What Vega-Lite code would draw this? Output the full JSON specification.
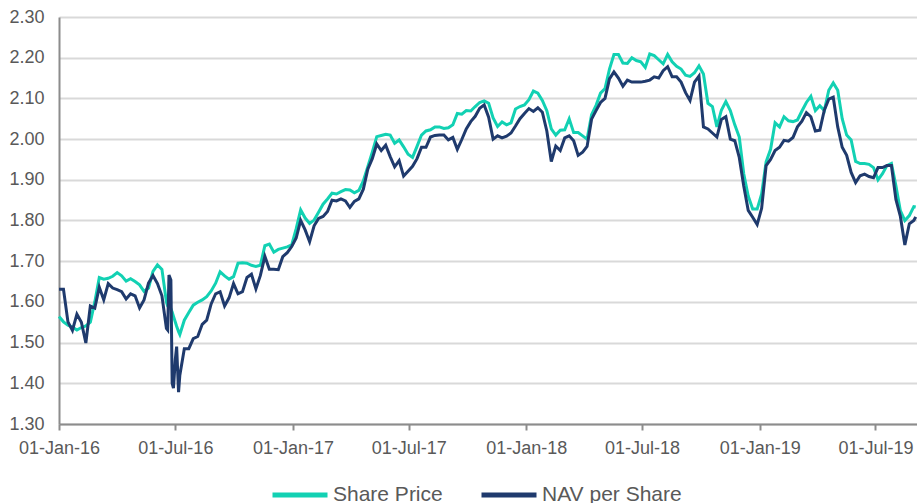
{
  "$schema": "https://vega.github.io/schema/vega-lite/v6.json",
  "width": 858,
  "height": 407,
  "autosize": {"type": "none"},
  "padding": {"left": 59, "top": 17, "right": 0, "bottom": 79},
  "background": "white",
  "config": {"view": {"stroke": null}, "font": "Liberation Sans"},
  "data": {"values": [
    {"d":"2016-01-01","s":1.564,"n":1.631},
    {"d":"2016-01-08","s":1.551,"n":1.631},
    {"d":"2016-01-15","s":1.543,"n":1.551},
    {"d":"2016-01-22","s":1.538,"n":1.53},
    {"d":"2016-01-29","s":1.531,"n":1.57},
    {"d":"2016-02-05","s":1.537,"n":1.55},
    {"d":"2016-02-12","s":1.541,"n":1.499},
    {"d":"2016-02-19","s":1.55,"n":1.59},
    {"d":"2016-02-26","s":1.60,"n":1.585},
    {"d":"2016-03-04","s":1.66,"n":1.636},
    {"d":"2016-03-11","s":1.656,"n":1.605},
    {"d":"2016-03-18","s":1.658,"n":1.645},
    {"d":"2016-03-25","s":1.663,"n":1.634},
    {"d":"2016-04-01","s":1.672,"n":1.63},
    {"d":"2016-04-08","s":1.664,"n":1.625},
    {"d":"2016-04-15","s":1.651,"n":1.607},
    {"d":"2016-04-22","s":1.657,"n":1.62},
    {"d":"2016-04-29","s":1.65,"n":1.615},
    {"d":"2016-05-06","s":1.642,"n":1.585},
    {"d":"2016-05-13","s":1.626,"n":1.605},
    {"d":"2016-05-20","s":1.634,"n":1.646},
    {"d":"2016-05-27","s":1.675,"n":1.665},
    {"d":"2016-06-03","s":1.691,"n":1.645},
    {"d":"2016-06-10","s":1.68,"n":1.615},
    {"d":"2016-06-17","s":1.60,"n":1.535},
    {"d":"2016-06-19","s":1.59,"n":1.531},
    {"d":"2016-06-21","s":1.586,"n":1.666},
    {"d":"2016-06-24","s":1.583,"n":1.654},
    {"d":"2016-06-26","s":1.575,"n":1.40},
    {"d":"2016-06-28","s":1.565,"n":1.388},
    {"d":"2016-07-01","s":1.55,"n":1.46},
    {"d":"2016-07-03","s":1.54,"n":1.49},
    {"d":"2016-07-06","s":1.527,"n":1.378},
    {"d":"2016-07-08","s":1.52,"n":1.42},
    {"d":"2016-07-15","s":1.555,"n":1.485},
    {"d":"2016-07-22","s":1.574,"n":1.485},
    {"d":"2016-07-29","s":1.592,"n":1.51},
    {"d":"2016-08-05","s":1.599,"n":1.515},
    {"d":"2016-08-12","s":1.605,"n":1.545},
    {"d":"2016-08-19","s":1.613,"n":1.555},
    {"d":"2016-08-26","s":1.627,"n":1.595},
    {"d":"2016-09-02","s":1.646,"n":1.62},
    {"d":"2016-09-09","s":1.674,"n":1.625},
    {"d":"2016-09-16","s":1.664,"n":1.59},
    {"d":"2016-09-23","s":1.656,"n":1.61},
    {"d":"2016-09-30","s":1.662,"n":1.645},
    {"d":"2016-10-07","s":1.695,"n":1.62},
    {"d":"2016-10-14","s":1.696,"n":1.625},
    {"d":"2016-10-21","s":1.695,"n":1.66},
    {"d":"2016-10-28","s":1.69,"n":1.668},
    {"d":"2016-11-04","s":1.687,"n":1.632},
    {"d":"2016-11-11","s":1.69,"n":1.665},
    {"d":"2016-11-18","s":1.738,"n":1.712},
    {"d":"2016-11-25","s":1.742,"n":1.68},
    {"d":"2016-12-02","s":1.722,"n":1.68},
    {"d":"2016-12-09","s":1.729,"n":1.679},
    {"d":"2016-12-16","s":1.732,"n":1.711},
    {"d":"2016-12-23","s":1.735,"n":1.721},
    {"d":"2016-12-30","s":1.74,"n":1.736},
    {"d":"2017-01-06","s":1.78,"n":1.757},
    {"d":"2017-01-13","s":1.826,"n":1.80},
    {"d":"2017-01-20","s":1.806,"n":1.777},
    {"d":"2017-01-27","s":1.793,"n":1.748},
    {"d":"2017-02-03","s":1.801,"n":1.787},
    {"d":"2017-02-10","s":1.82,"n":1.805},
    {"d":"2017-02-17","s":1.84,"n":1.81},
    {"d":"2017-02-24","s":1.853,"n":1.822},
    {"d":"2017-03-03","s":1.867,"n":1.85},
    {"d":"2017-03-10","s":1.865,"n":1.848},
    {"d":"2017-03-17","s":1.871,"n":1.853},
    {"d":"2017-03-24","s":1.876,"n":1.848},
    {"d":"2017-03-31","s":1.875,"n":1.832},
    {"d":"2017-04-07","s":1.868,"n":1.847},
    {"d":"2017-04-14","s":1.874,"n":1.853},
    {"d":"2017-04-21","s":1.897,"n":1.877},
    {"d":"2017-04-28","s":1.932,"n":1.926},
    {"d":"2017-05-05","s":1.968,"n":1.952},
    {"d":"2017-05-12","s":2.006,"n":1.988},
    {"d":"2017-05-19","s":2.009,"n":1.972},
    {"d":"2017-05-26","s":2.012,"n":1.985},
    {"d":"2017-06-02","s":2.01,"n":1.957},
    {"d":"2017-06-09","s":1.99,"n":1.932},
    {"d":"2017-06-16","s":1.998,"n":1.947},
    {"d":"2017-06-23","s":1.981,"n":1.909},
    {"d":"2017-06-30","s":1.963,"n":1.921},
    {"d":"2017-07-07","s":1.955,"n":1.933},
    {"d":"2017-07-14","s":1.982,"n":1.952},
    {"d":"2017-07-21","s":2.01,"n":1.98},
    {"d":"2017-07-28","s":2.02,"n":1.98},
    {"d":"2017-08-04","s":2.023,"n":2.005},
    {"d":"2017-08-11","s":2.03,"n":2.009},
    {"d":"2017-08-18","s":2.03,"n":2.01},
    {"d":"2017-08-25","s":2.026,"n":2.01},
    {"d":"2017-09-01","s":2.028,"n":1.998},
    {"d":"2017-09-08","s":2.035,"n":2.004},
    {"d":"2017-09-15","s":2.063,"n":1.975},
    {"d":"2017-09-22","s":2.061,"n":1.999},
    {"d":"2017-09-29","s":2.07,"n":2.025},
    {"d":"2017-10-06","s":2.069,"n":2.043},
    {"d":"2017-10-13","s":2.08,"n":2.056},
    {"d":"2017-10-20","s":2.09,"n":2.076},
    {"d":"2017-10-27","s":2.094,"n":2.084},
    {"d":"2017-11-03","s":2.088,"n":2.054},
    {"d":"2017-11-10","s":2.052,"n":2.0},
    {"d":"2017-11-17","s":2.031,"n":2.008},
    {"d":"2017-11-24","s":2.042,"n":2.003},
    {"d":"2017-12-01","s":2.035,"n":2.007},
    {"d":"2017-12-08","s":2.04,"n":2.015},
    {"d":"2017-12-15","s":2.074,"n":2.032},
    {"d":"2017-12-22","s":2.08,"n":2.05},
    {"d":"2017-12-29","s":2.084,"n":2.063},
    {"d":"2018-01-05","s":2.097,"n":2.075},
    {"d":"2018-01-12","s":2.118,"n":2.068},
    {"d":"2018-01-19","s":2.113,"n":2.077},
    {"d":"2018-01-26","s":2.095,"n":2.066},
    {"d":"2018-02-02","s":2.07,"n":2.02},
    {"d":"2018-02-09","s":2.025,"n":1.945},
    {"d":"2018-02-16","s":2.01,"n":1.983},
    {"d":"2018-02-23","s":2.022,"n":1.972},
    {"d":"2018-03-02","s":2.023,"n":2.003},
    {"d":"2018-03-09","s":2.05,"n":2.008},
    {"d":"2018-03-16","s":2.016,"n":1.996},
    {"d":"2018-03-23","s":2.016,"n":1.96},
    {"d":"2018-03-30","s":2.008,"n":1.968},
    {"d":"2018-04-06","s":2.0,"n":1.982},
    {"d":"2018-04-13","s":2.06,"n":2.049},
    {"d":"2018-04-20","s":2.083,"n":2.07},
    {"d":"2018-04-27","s":2.113,"n":2.09},
    {"d":"2018-05-04","s":2.124,"n":2.10},
    {"d":"2018-05-11","s":2.172,"n":2.148},
    {"d":"2018-05-18","s":2.208,"n":2.165},
    {"d":"2018-05-25","s":2.208,"n":2.15},
    {"d":"2018-06-01","s":2.187,"n":2.13},
    {"d":"2018-06-08","s":2.186,"n":2.145},
    {"d":"2018-06-15","s":2.2,"n":2.14},
    {"d":"2018-06-22","s":2.193,"n":2.14},
    {"d":"2018-06-29","s":2.19,"n":2.14},
    {"d":"2018-07-06","s":2.176,"n":2.142},
    {"d":"2018-07-13","s":2.209,"n":2.145},
    {"d":"2018-07-20","s":2.205,"n":2.153},
    {"d":"2018-07-27","s":2.195,"n":2.15},
    {"d":"2018-08-03","s":2.185,"n":2.168},
    {"d":"2018-08-10","s":2.208,"n":2.178},
    {"d":"2018-08-17","s":2.19,"n":2.153},
    {"d":"2018-08-24","s":2.179,"n":2.153},
    {"d":"2018-08-31","s":2.172,"n":2.14},
    {"d":"2018-09-07","s":2.157,"n":2.114},
    {"d":"2018-09-14","s":2.154,"n":2.095},
    {"d":"2018-09-21","s":2.163,"n":2.14},
    {"d":"2018-09-28","s":2.18,"n":2.155},
    {"d":"2018-10-05","s":2.16,"n":2.03},
    {"d":"2018-10-12","s":2.088,"n":2.025},
    {"d":"2018-10-19","s":2.08,"n":2.015},
    {"d":"2018-10-26","s":2.03,"n":2.005},
    {"d":"2018-11-02","s":2.071,"n":2.048},
    {"d":"2018-11-09","s":2.092,"n":2.055},
    {"d":"2018-11-16","s":2.07,"n":2.0},
    {"d":"2018-11-23","s":2.035,"n":1.996},
    {"d":"2018-11-30","s":2.005,"n":1.955},
    {"d":"2018-12-07","s":1.915,"n":1.885},
    {"d":"2018-12-14","s":1.86,"n":1.825},
    {"d":"2018-12-21","s":1.828,"n":1.808},
    {"d":"2018-12-28","s":1.828,"n":1.79},
    {"d":"2019-01-04","s":1.865,"n":1.83},
    {"d":"2019-01-11","s":1.944,"n":1.935},
    {"d":"2019-01-18","s":1.975,"n":1.95},
    {"d":"2019-01-25","s":2.04,"n":1.972},
    {"d":"2019-02-01","s":2.03,"n":1.98},
    {"d":"2019-02-08","s":2.055,"n":1.997},
    {"d":"2019-02-15","s":2.045,"n":1.995},
    {"d":"2019-02-22","s":2.043,"n":2.004},
    {"d":"2019-03-01","s":2.047,"n":2.03},
    {"d":"2019-03-08","s":2.069,"n":2.044},
    {"d":"2019-03-15","s":2.09,"n":2.065},
    {"d":"2019-03-22","s":2.105,"n":2.055},
    {"d":"2019-03-29","s":2.07,"n":2.02},
    {"d":"2019-04-05","s":2.082,"n":2.022},
    {"d":"2019-04-12","s":2.07,"n":2.071},
    {"d":"2019-04-19","s":2.12,"n":2.098},
    {"d":"2019-04-26","s":2.138,"n":2.103},
    {"d":"2019-05-03","s":2.12,"n":2.03},
    {"d":"2019-05-10","s":2.05,"n":1.98},
    {"d":"2019-05-17","s":2.01,"n":1.96},
    {"d":"2019-05-24","s":1.998,"n":1.918},
    {"d":"2019-05-31","s":1.945,"n":1.893},
    {"d":"2019-06-07","s":1.94,"n":1.91},
    {"d":"2019-06-14","s":1.94,"n":1.914},
    {"d":"2019-06-21","s":1.938,"n":1.908},
    {"d":"2019-06-28","s":1.93,"n":1.905},
    {"d":"2019-07-05","s":1.90,"n":1.93},
    {"d":"2019-07-12","s":1.915,"n":1.93},
    {"d":"2019-07-19","s":1.935,"n":1.935},
    {"d":"2019-07-26","s":1.94,"n":1.935},
    {"d":"2019-08-02","s":1.885,"n":1.852},
    {"d":"2019-08-09","s":1.824,"n":1.81},
    {"d":"2019-08-16","s":1.80,"n":1.74},
    {"d":"2019-08-23","s":1.812,"n":1.792},
    {"d":"2019-08-30","s":1.834,"n":1.80},
    {"d":"2019-09-02","s":1.833,"n":1.809}
  ]},
  "encoding": {
    "x": {
      "field": "d",
      "type": "temporal",
      "scale": {"type": "utc", "domain": [{"year": 2016, "month": 1, "date": 1, "utc": true}, {"year": 2019, "month": 9, "date": 4, "utc": true}]},
      "axis": {
        "title": null,
        "values": [
          {"year": 2016, "month": 1, "date": 1, "utc": true},
          {"year": 2016, "month": 7, "date": 1, "utc": true},
          {"year": 2017, "month": 1, "date": 1, "utc": true},
          {"year": 2017, "month": 7, "date": 1, "utc": true},
          {"year": 2018, "month": 1, "date": 1, "utc": true},
          {"year": 2018, "month": 7, "date": 1, "utc": true},
          {"year": 2019, "month": 1, "date": 1, "utc": true},
          {"year": 2019, "month": 7, "date": 1, "utc": true}
        ],
        "format": "%d-%b-%y",
        "labelOverlap": false,
        "labelFlush": false,
        "labelFontSize": 18,
        "labelColor": "#595959",
        "labelPadding": 9,
        "tickColor": "#8c8c8c",
        "tickSize": 6,
        "tickWidth": 2,
        "domainColor": "#8c8c8c",
        "domainWidth": 2,
        "grid": false
      }
    }
  },
  "layer": [
    {
      "mark": {"type": "line", "strokeWidth": 3},
      "encoding": {
        "y": {
          "field": "s",
          "type": "quantitative",
          "scale": {"domain": [1.3, 2.3], "nice": false, "zero": false},
          "axis": {
            "title": null,
            "values": [1.3, 1.4, 1.5, 1.6, 1.7, 1.8, 1.9, 2.0, 2.1, 2.2, 2.3],
            "format": ".2f",
            "grid": true,
            "gridColor": "#d9d9d9",
            "gridWidth": 2,
            "ticks": false,
            "domainColor": "#8c8c8c",
            "domainWidth": 2,
            "labelPadding": 15,
            "labelFontSize": 18,
            "labelColor": "#595959"
          }
        },
        "color": {
          "datum": "Share Price",
          "type": "nominal",
          "scale": {"domain": ["Share Price", "NAV per Share"], "range": ["#12D1B3", "#1F3A6D"]},
          "legend": {
            "orient": "none",
            "legendX": 211,
            "legendY": 448,
            "direction": "horizontal",
            "title": null,
            "symbolType": "stroke",
            "symbolSize": 3025,
            "symbolStrokeWidth": 5,
            "labelFontSize": 21,
            "labelColor": "#595959",
            "labelOffset": 3,
            "columnPadding": 28
          }
        }
      }
    },
    {
      "mark": {"type": "line", "strokeWidth": 3},
      "encoding": {
        "y": {"field": "n", "type": "quantitative"},
        "color": {"datum": "NAV per Share", "type": "nominal"}
      }
    }
  ]
}
